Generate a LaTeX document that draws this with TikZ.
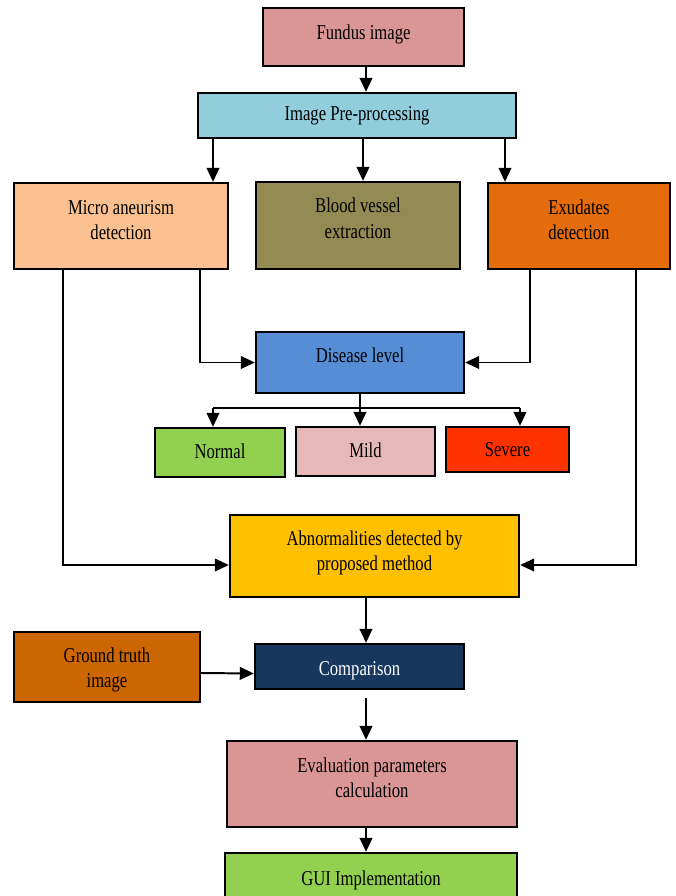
\documentclass[tikz,border=0pt]{standalone}
\usepackage{fontspec}
\setmainfont{Liberation Serif}[FakeStretch=0.79]
\usetikzlibrary{arrows.meta}

\definecolor{cFundus}{HTML}{DA9694}
\definecolor{cPrep}{HTML}{92CDDC}
\definecolor{cMicro}{HTML}{FAC08F}
\definecolor{cBlood}{HTML}{948A54}
\definecolor{cExud}{HTML}{E46C0A}
\definecolor{cDisease}{HTML}{558ED5}
\definecolor{cNormal}{HTML}{92D050}
\definecolor{cMild}{HTML}{E6B9B8}
\definecolor{cSevere}{HTML}{FF3300}
\definecolor{cAbn}{HTML}{FFC000}
\definecolor{cGround}{HTML}{CC6600}
\definecolor{cComp}{HTML}{17375E}

% text set a little higher or lower in its box
\newcommand\lift[2]{\raisebox{#1}[\height][\depth]{\begin{tabular}{@{}c@{}}#2\end{tabular}}}

\tikzset{
	blk/.style={draw,line width=1.6pt,align=center,inner sep=0pt,
		font=\fontsize{15}{17.8}\selectfont},
	arr/.style={line width=1.4pt,-{Triangle[length=10pt,width=9pt]}},
	ln/.style={line width=1.4pt},
}

\begin{document}
\begin{tikzpicture}[x=0.025cm,y=-0.025cm]
	%\draw[help lines] (0,0) grid (676,896);
	\useasboundingbox (0,0) rectangle (676,896);

	\path
	coordinate (aux1) at (63,0)
	coordinate (aux2) at (200,0)
	coordinate (aux3) at (530,0)
	coordinate (aux4) at (636,0)
	coordinate (aux5) at (213,0)
	coordinate (aux6) at (505,0)
	coordinate (aux7) at (363,0)
	coordinate (aux8) at (366,0)
	coordinate (jL) at (213,408)
	coordinate (jR) at (520,408)
	;

	\node[blk,fill=cFundus,minimum width=5.025cm,minimum height=1.45cm] (fundus) at (363.5,37) {\lift{0.075cm}{Fundus image}};
	\node[blk,fill=cPrep,minimum width=7.95cm,minimum height=1.125cm] (prep) at (357,115.5) {\lift{0cm}{Image Pre-processing}};

	\node[blk,fill=cMicro,minimum width=5.35cm,minimum height=2.15cm] (micro) at (121,226) {\lift{0.1cm}{Micro aneurism\\detection}};
	\node[blk,fill=cBlood,minimum width=5.1cm,minimum height=2.175cm] (blood) at (358,225.5) {\lift{0.125cm}{Blood vessel\\extraction}};
	\node[blk,fill=cExud,minimum width=4.55cm,minimum height=2.15cm] (exud) at (579,226) {\lift{0.1cm}{Exudates\\detection}};

	\node[blk,fill=cDisease,minimum width=5.2cm,minimum height=1.525cm] (disease) at (360,362.5) {\lift{0.125cm}{Disease level}};

	\node[blk,fill=cNormal,minimum width=3.25cm,minimum height=1.225cm] (normal) at (220,452.5) {\lift{-0.025cm}{Normal}};
	\node[blk,fill=cMild,minimum width=3.475cm,minimum height=1.225cm] (mild) at (365.5,451.5) {\lift{-0.025cm}{Mild}};
	\node[blk,fill=cSevere,minimum width=3.075cm,minimum height=1.125cm] (severe) at (507.5,449.5) {\lift{-0.05cm}{Severe}};

	\node[blk,fill=cAbn,minimum width=7.225cm,minimum height=2.05cm] (abn) at (374.5,556) {\lift{0.075cm}{Abnormalities detected by\\proposed method}};

	\node[blk,fill=cGround,minimum width=4.65cm,minimum height=1.75cm] (ground) at (107,667) {\lift{-0.075cm}{Ground truth\\image}};
	\node[blk,fill=cComp,text=white,minimum width=5.225cm,minimum height=1.125cm] (comp) at (359.5,666.5) {\lift{-0.1cm}{Comparison}};

	\node[blk,fill=cFundus,minimum width=7.25cm,minimum height=2.15cm] (eval) at (372,784) {\lift{0.1cm}{Evaluation parameters\\calculation}};
	\node[blk,fill=cNormal,minimum width=7.3cm,minimum height=1.35cm] (gui) at (371,880) {\lift{0cm}{GUI Implementation}};

	% top part
	\draw[arr] (fundus.south -| aux8) -- (prep.north -| aux8);
	\draw[arr] (prep.south -| aux5) -- (micro.north -| aux5);
	\draw[arr] (prep.south -| aux7) -- (blood.north -| aux7);
	\draw[arr] (prep.south -| aux6) -- (exud.north -| aux6);

	% feature lines
	\draw[arr] (micro.south -| aux2) |- (disease.west);
	\draw[arr] (exud.south -| aux3) |- (disease.east);
	\draw[arr] (micro.south -| aux1) |- ([yshift=-0.225cm]abn.west);
	\draw[arr] (exud.south -| aux4) |- ([yshift=-0.225cm]abn.east);

	% levels
	\draw[ln] (disease.south) -- (disease.south |- jL);
	\draw[ln] (jL) -- (jR);
	\draw[arr] (jL) -- (jL |- normal.north);
	\draw[arr] (disease.south |- jL) -- (disease.south |- mild.north);
	\draw[arr] (jR) -- (jR |- severe.north);

	% bottom part
	\draw[arr] (abn.south -| aux8) -- (comp.north -| aux8);
	\draw[arr] ([yshift=-0.15cm]ground.east) -- ([yshift=-0.175cm]comp.west);
	\draw[arr,shorten <=0.2cm] (comp.south -| aux8) -- (eval.north -| aux8);
	\draw[arr] (eval.south -| aux8) -- (gui.north -| aux8);

\end{tikzpicture}
\end{document}
